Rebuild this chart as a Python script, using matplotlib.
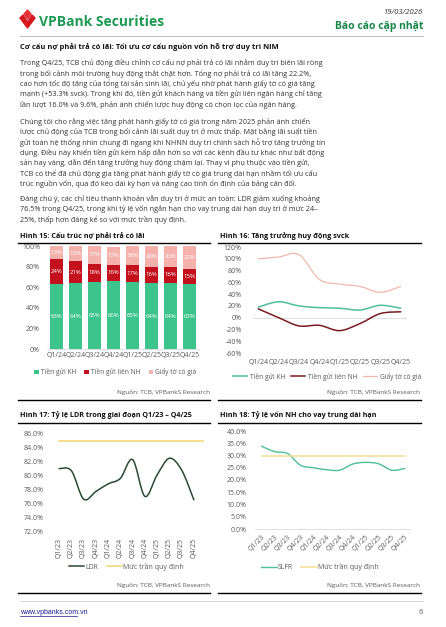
import numpy as np
import matplotlib.pyplot as plt
from matplotlib.path import Path
from matplotlib.patches import PathPatch, Polygon
from matplotlib.lines import Line2D

plt.rcParams['font.family'] = ['Open Sans', 'DejaVu Sans']

W, H = 446, 627

# ---- data ----
q24 = ['Q1/24', 'Q2/24', 'Q3/24', 'Q4/24', 'Q1/25', 'Q2/25', 'Q3/25', 'Q4/25']
q23 = ['Q1/23', 'Q2/23', 'Q3/23', 'Q4/23', 'Q1/24', 'Q2/24', 'Q3/24', 'Q4/24',
       'Q1/25', 'Q2/25', 'Q3/25', 'Q4/25']

# Hinh 15: structure (%)
tien_gui_kh = [63, 64, 65, 66, 65, 64, 64, 63]
tien_gui_nh = [24, 21, 18, 16, 17, 16, 16, 15]
giay_to = [13, 15, 17, 17, 18, 20, 20, 22]

# Hinh 16: yoy growth (%)
g_kh = [18, 27, 20, 17, 16, 13, 21, 16]
g_nh = [15, 0, -14, -13, -22, -10, 7, 10]
g_gtcg = [100, 103, 107, 65, 57, 53, 43, 53]

# Hinh 17: LDR (%)
ldr = [81.0, 80.7, 76.6, 77.7, 78.8, 79.6, 82.3, 77.0, 80.1, 82.5, 80.8, 76.5]
ldr_cap = 85.0

# Hinh 18: SLFR (%)
slfr = [33.8, 31.6, 30.8, 26.0, 25.0, 24.2, 24.0, 26.5, 27.2, 26.6, 24.0, 24.7]
slfr_cap = 30.0

GREEN = '#3cc48c'
RED = '#c3121d'
PINK = '#f5b2ad'
TEAL = '#4dbf9a'
DARKRED = '#7a1b22'
LPINK = '#f2b7ab'
DKGREEN = '#2a4a32'
YELLOW = '#f1e08f'
GRAY = '#595959'
AXGRAY = '#d9d9d9'

fig = plt.figure(figsize=(W / 100, H / 100), dpi=100)


def box(x0, y0, x1, y1):
    return [x0 / W, 1 - y1 / H, (x1 - x0) / W, (y1 - y0) / H]


def ftext(x, y, s, **kw):
    kw.setdefault('va', 'center')
    return fig.text(x / W, 1 - y / H, s, **kw)


def hline(x0, x1, y, color='black', lw=1.0):
    fig.add_artist(Line2D([x0 / W, x1 / W], [1 - y / H, 1 - y / H],
                          color=color, lw=lw, transform=fig.transFigure))


def smooth(ax, xs, ys, **kw):
    # Excel-like smoothed line through the points (bezier segments)
    p = np.column_stack([xs, ys]).astype(float)
    verts = [p[0]]
    codes = [Path.MOVETO]
    n = len(p)
    for i in range(n - 1):
        p0 = p[i - 1] if i > 0 else p[i]
        p3 = p[i + 2] if i + 2 < n else p[i + 1]
        c1 = p[i] + (p[i + 1] - p0) / 6
        c2 = p[i + 1] - (p3 - p[i]) / 6
        verts += [c1, c2, p[i + 1]]
        codes += [Path.CURVE4] * 3
    ax.add_patch(PathPatch(Path(verts, codes), fill=False, capstyle='round', **kw))


def style(ax, bottom=False):
    for s in ['top', 'right', 'left']:
        ax.spines[s].set_visible(False)
    ax.spines['bottom'].set_visible(bottom)
    ax.spines['bottom'].set_color(AXGRAY)
    ax.spines['bottom'].set_linewidth(0.6)
    ax.tick_params(length=0, labelsize=5, colors=GRAY, pad=2)
    ax.set_facecolor('none')


# ---- header ----
logo = [(20, 18), (23, 15), (27.5, 22), (32, 15), (35, 18), (27.5, 28)]
fig.add_artist(Polygon([(x / W, 1 - y / H) for x, y in logo], closed=True,
                       color='#d71920', transform=fig.transFigure))
for pts in [[(24, 14), (27.5, 10), (27.5, 19)], [(31, 14), (27.5, 10), (27.5, 19)]]:
    fig.add_artist(Polygon([(x / W, 1 - y / H) for x, y in pts], closed=True,
                           color='#e8323a', transform=fig.transFigure))
ftext(39, 22, 'VPBank Securities', fontsize=10, fontweight='bold', color='#1d9a52')
ftext(423, 12, '19/03/2026', fontsize=5.5, style='italic', color='#333333', ha='right')
ftext(423, 27, 'Báo cáo cập nhật', fontsize=7.5, fontweight='bold', color='#17864a', ha='right')
hline(20, 423, 36, color='#bfbfbf', lw=0.8)

# ---- body text ----
body_fs = 5.2
ftext(20, 47, 'Cơ cấu nợ phải trả có lãi: Tối ưu cơ cấu nguồn vốn hỗ trợ duy trì NIM',
      fontsize=5.4, fontweight='bold', color='#111111')
para1 = [
    'Trong Q4/25, TCB chủ động điều chỉnh cơ cấu nợ phải trả có lãi nhằm duy trì biên lãi ròng',
    'trong bối cảnh môi trường huy động thắt chặt hơn. Tổng nợ phải trả có lãi tăng 22.2%,',
    'cao hơn tốc độ tăng của tổng tài sản sinh lãi, chủ yếu nhờ phát hành giấy tờ có giá tăng',
    'mạnh (+53.3% svck). Trong khi đó, tiền gửi khách hàng và tiền gửi liên ngân hàng chỉ tăng',
    'lần lượt 16.0% và 9.6%, phản ánh chiến lược huy động có chọn lọc của ngân hàng.',
]
para2 = [
    'Chúng tôi cho rằng việc tăng phát hành giấy tờ có giá trong năm 2025 phản ánh chiến',
    'lược chủ động của TCB trong bối cảnh lãi suất duy trì ở mức thấp. Mặt bằng lãi suất tiền',
    'gửi toàn hệ thống nhìn chung đi ngang khi NHNN duy trì chính sách hỗ trợ tăng trưởng tín',
    'dụng. Điều này khiến tiền gửi kém hấp dẫn hơn so với các kênh đầu tư khác như bất động',
    'sản hay vàng, dẫn đến tăng trưởng huy động chậm lại. Thay vì phụ thuộc vào tiền gửi,',
    'TCB có thể đã chủ động gia tăng phát hành giấy tờ có giá trung dài hạn nhằm tối ưu cấu',
    'trúc nguồn vốn, qua đó kéo dài kỳ hạn và nâng cao tính ổn định của bảng cân đối.',
]
para3 = [
    'Đáng chú ý, các chỉ tiêu thanh khoản vẫn duy trì ở mức an toàn: LDR giảm xuống khoảng',
    '76.5% trong Q4/25, trong khi tỷ lệ vốn ngắn hạn cho vay trung dài hạn duy trì ở mức 24–',
    '25%, thấp hơn đáng kể so với mức trần quy định.',
]
for y0, para in [(63, para1), (121.5, para2), (199, para3)]:
    for i, line in enumerate(para):
        ftext(20, y0 + i * 10.4, line, fontsize=body_fs, color='#333333')

# ---- figure titles / rules ----
ftext(20, 236, 'Hình 15: Cấu trúc nợ phải trả có lãi', fontsize=5.2, fontweight='bold', color='#111111')
ftext(220, 236, 'Hình 16: Tăng trưởng huy động svck', fontsize=5.2, fontweight='bold', color='#111111')
hline(18, 210, 243)
hline(218, 421, 243)
ftext(20, 415, 'Hình 17: Tỷ lệ LDR trong giai đoạn Q1/23 – Q4/25', fontsize=5.2, fontweight='bold', color='#111111')
ftext(220, 415, 'Hình 18: Tỷ lệ vốn NH cho vay trung dài hạn', fontsize=5.2, fontweight='bold', color='#111111')
hline(18, 210, 400)
hline(218, 421, 400)
hline(18, 210, 423)
hline(218, 421, 423)
hline(18, 210, 593)
hline(218, 421, 593)

src = 'Nguồn: TCB, VPBankS Research'
ftext(210, 392, src, fontsize=4.6, color=GRAY, ha='right')
ftext(420, 392, src, fontsize=4.6, color=GRAY, ha='right')
ftext(210, 585, src, fontsize=4.6, color=GRAY, ha='right')
ftext(420, 585, src, fontsize=4.6, color=GRAY, ha='right')

# ---- Hinh 15: stacked bars ----
ax1 = fig.add_axes(box(47, 246, 199, 349))
x = np.arange(len(q24))
b1 = ax1.bar(x, tien_gui_kh, width=0.7, color=GREEN, label='Tiền gửi KH')
b2 = ax1.bar(x, tien_gui_nh, width=0.7, bottom=tien_gui_kh, color=RED, label='Tiền gửi liên NH')
base3 = np.array(tien_gui_kh) + np.array(tien_gui_nh)
b3 = ax1.bar(x, giay_to, width=0.7, bottom=base3, color=PINK, label='Giấy tờ có giá')
for bars in (b1, b2, b3):
    ax1.bar_label(bars, labels=[f'{v.get_height():.0f}%' for v in bars],
                  label_type='center', fontsize=4.3, color='white')
ax1.set_xlim(-0.5, len(q24) - 0.5)
ax1.set_ylim(0, 100)
ax1.set_yticks(range(0, 101, 20))
ax1.set_yticklabels([f'{v}%' for v in range(0, 101, 20)])
ax1.set_xticks(x)
ax1.set_xticklabels(q24)
style(ax1, bottom=True)
ax1.tick_params(axis='y', pad=5)
ax1.legend(loc='upper center', bbox_to_anchor=(0.45, -0.13), ncol=3, frameon=False,
           fontsize=4.8, handlelength=0.7, handleheight=0.7, handletextpad=0.3,
           columnspacing=1.2, labelcolor=GRAY)

# ---- Hinh 16: growth lines ----
ax2 = fig.add_axes(box(253, 247, 407, 353))
x = np.arange(len(q24))
smooth(ax2, x, g_gtcg, color=LPINK, lw=0.9)
smooth(ax2, x, g_kh, color=TEAL, lw=1.1)
smooth(ax2, x, g_nh, color=DARKRED, lw=1.1)
ax2.axhline(0, color=AXGRAY, lw=0.6, zorder=0)
ax2.set_xlim(-0.26, 7.31)
ax2.set_ylim(-60, 120)
ax2.set_yticks(range(-60, 121, 20))
ax2.set_yticklabels([f'{v}%' for v in range(-60, 121, 20)])
ax2.set_xticks(x)
ax2.set_xticklabels(q24)
style(ax2)
ax2.tick_params(axis='y', pad=8)
ax2.tick_params(axis='x', pad=4)
h2 = [Line2D([], [], color=TEAL, lw=1.1), Line2D([], [], color=DARKRED, lw=1.1),
      Line2D([], [], color=LPINK, lw=0.9)]
ax2.legend(h2, ['Tiền gửi KH', 'Tiền gửi liên NH', 'Giấy tờ có giá'], loc='upper center',
           bbox_to_anchor=(0.48, -0.13), ncol=3, frameon=False, fontsize=4.8,
           handlelength=2.2, handletextpad=0.4, columnspacing=0.8, labelcolor=GRAY)

# ---- Hinh 17: LDR ----
ax3 = fig.add_axes(box(53, 434, 200, 531))
x = np.arange(len(q23))
ax3.axhline(ldr_cap, xmin=0.04, xmax=1.02, color=YELLOW, lw=1.4, clip_on=False)
smooth(ax3, x, ldr, color=DKGREEN, lw=1.1)
ax3.set_xlim(-0.5, len(q23) - 0.5)
ax3.set_ylim(72, 86)
ax3.set_yticks(np.arange(72, 86.1, 2))
ax3.set_yticklabels([f'{v:.1f}%' for v in np.arange(72, 86.1, 2)])
ax3.set_xticks(x)
ax3.set_xticklabels(q23, rotation=90)
style(ax3)
ax3.tick_params(axis='y', pad=7)
ax3.tick_params(axis='x', pad=5)
h3 = [Line2D([], [], color=DKGREEN, lw=1.1), Line2D([], [], color=YELLOW, lw=1.4)]
ax3.legend(h3, ['LDR', 'Mức trần quy định'], loc='center', bbox_to_anchor=(0.5, -0.37),
           ncol=2, frameon=False, fontsize=5, handlelength=2.2, handletextpad=0.2,
           columnspacing=1.2, labelcolor=GRAY)

# ---- Hinh 18: SLFR ----
ax4 = fig.add_axes(box(255, 431, 410, 529))
x = np.arange(len(q23))
ax4.plot(x, [slfr_cap] * len(q23), color=YELLOW, lw=1.1)
smooth(ax4, x, slfr, color=TEAL, lw=1.0)
ax4.set_xlim(-0.5, 11.4)
ax4.set_ylim(0, 40)
ax4.set_yticks(np.arange(0, 40.1, 5))
ax4.set_yticklabels([f'{v:.1f}%' for v in np.arange(0, 40.1, 5)])
ax4.set_xticks(x)
ax4.set_xticklabels(q23, rotation=45, ha='right', rotation_mode='anchor')
style(ax4, bottom=True)
ax4.tick_params(axis='y', pad=6)
ax4.tick_params(axis='x', pad=3)
h4 = [Line2D([], [], color=TEAL, lw=1.0), Line2D([], [], color=YELLOW, lw=1.1)]
ax4.legend(h4, ['SLFR', 'Mức trần quy định'], loc='center', bbox_to_anchor=(0.42, -0.39),
           ncol=2, frameon=False, fontsize=5, handlelength=2.2, handletextpad=0.2,
           columnspacing=1.2, labelcolor=GRAY)

# ---- footer ----
hline(20, 423, 601, color='#d0d0d0', lw=0.6)
ftext(20, 612, 'www.vpbanks.com.vn', fontsize=5, color='#1a1a8c', family=['Liberation Sans', 'DejaVu Sans'])
hline(20, 77, 615.5, color='#1a1a8c', lw=0.5)
ftext(423, 612, '6', fontsize=5.5, color=GRAY, ha='right')

fig.savefig('out.png', dpi=100, facecolor='white')
